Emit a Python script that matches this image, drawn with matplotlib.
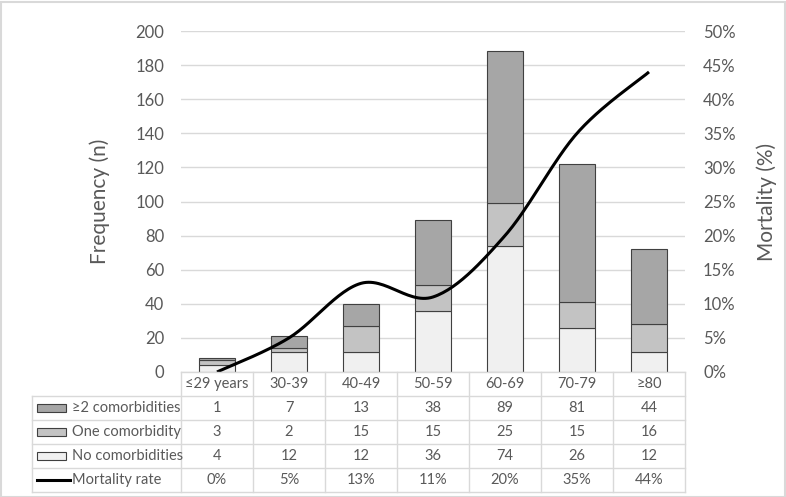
import numpy as np
import matplotlib
matplotlib.use("Agg")
from matplotlib import pyplot as plt
from matplotlib.patches import Rectangle
from matplotlib.lines import Line2D
from matplotlib.ticker import FuncFormatter

plt.rcParams["font.family"] = ["Lato", "DejaVu Sans"]

ages = ["≤29 years", "30-39", "40-49", "50-59", "60-69", "70-79", "≥80"]
no_comorb = [4, 12, 12, 36, 74, 26, 12]
one_comorb = [3, 2, 15, 15, 25, 15, 16]
two_comorb = [1, 7, 13, 38, 89, 81, 44]
mortality = [0, 5, 13, 11, 20, 35, 44]

series_names = ["≥2 comorbidities", "One comorbidity", "No comorbidities", "Mortality rate"]
colors = {"two": "#a6a6a6", "one": "#c3c3c3", "none": "#f0f0f0"}
TXT = "#595959"
GRID = "#d9d9d9"

W, H = 786, 497
fig = plt.figure(figsize=(W / 100, H / 100), dpi=100)
fig.patches.append(Rectangle((0.5 / W, 0.5 / H), 1 - 2 / W, 1 - 2 / H, transform=fig.transFigure,
                             fill=False, edgecolor=GRID, lw=1.5))

ax_l, ax_r, ax_b, ax_t = 181, 685, 372, 31
ax = fig.add_axes([ax_l / W, 1 - ax_b / H, (ax_r - ax_l) / W, (ax_b - ax_t) / H])
x = np.arange(len(ages))

def stack(vals, bottom, col):
    ax.bar(x, vals, 0.51, bottom=bottom, color=col, edgecolor="#404040", lw=0.8, zorder=3)

b0 = np.zeros(len(ages))
stack(no_comorb, b0, colors["none"])
b1 = b0 + np.array(no_comorb)
stack(one_comorb, b1, colors["one"])
b2 = b1 + np.array(one_comorb)
stack(two_comorb, b2, colors["two"])

ax.set_xlim(-0.5, len(ages) - 0.5)
ax.set_ylim(0, 200)
ax.set_yticks(range(0, 201, 20))
ax.set_xticks([])
ax.grid(axis="y", color=GRID, lw=1, zorder=0)
for s in ax.spines.values():
    s.set_visible(False)
ax.tick_params(axis="y", length=0, labelsize=12, labelcolor=TXT, pad=12)
ax.set_ylabel("Frequency (n)", fontsize=15, color=TXT, labelpad=18)

ax2 = ax.twinx()
ax2.set_ylim(0, 50)
ax2.set_yticks(range(0, 51, 5))
ax2.yaxis.set_major_formatter(FuncFormatter(lambda v, p: f"{int(v)}%"))
for s in ax2.spines.values():
    s.set_visible(False)
ax2.tick_params(axis="y", length=0, labelsize=12, labelcolor=TXT, pad=13)
ax2.set_ylabel("Mortality (%)", fontsize=15, color=TXT, labelpad=15)

# smoothed line (Catmull-Rom style, like Excel's smoothing), computed in pixel space
px = x * (ax_r - ax_l) / len(ages)
py = np.array(mortality) * (ax_b - ax_t) / 50.0
P = np.column_stack([px, py])
Pe = np.vstack([P[0], P, P[-1]])
curve = []
t = np.linspace(0, 1, 30)[:, None]
for i in range(len(P) - 1):
    p0, p3 = Pe[i + 1], Pe[i + 2]
    c1 = p0 + (Pe[i + 2] - Pe[i]) / 6
    c2 = p3 - (Pe[i + 3] - Pe[i + 1]) / 6
    seg = (1 - t) ** 3 * p0 + 3 * (1 - t) ** 2 * t * c1 + 3 * (1 - t) * t ** 2 * c2 + t ** 3 * p3
    curve.append(seg)
curve = np.vstack(curve)
ax2.plot(curve[:, 0] * len(ages) / (ax_r - ax_l), curve[:, 1] * 50.0 / (ax_b - ax_t),
         color="black", lw=2.2, zorder=5, solid_capstyle="butt")

# data table below the plot
rows = [two_comorb, one_comorb, no_comorb, [f"{m}%" for m in mortality]]
row_h = 24 / H
col_w = (ax_r - ax_l) / W / len(ages)
left0 = ax_l / W
tab_left = 32 / W
y_top = 1 - ax_b / H

def hline(y, x0, x1):
    fig.add_artist(Line2D([x0, x1], [y, y], color=GRID, lw=1, transform=fig.transFigure))

def vline(xp, y0, y1):
    fig.add_artist(Line2D([xp, xp], [y0, y1], color=GRID, lw=1, transform=fig.transFigure))

hline(y_top, left0, ax_r / W)
for r in range(1, 6):
    hline(y_top - r * row_h, tab_left, ax_r / W)
vline(tab_left, y_top - 5 * row_h, y_top - row_h)
for c in range(len(ages) + 1):
    vline(left0 + c * col_w, y_top - 5 * row_h, y_top)

for c, lab in enumerate(ages):
    fig.text(left0 + (c + 0.5) * col_w, y_top - 0.5 * row_h, lab, ha="center", va="center",
             fontsize=10.5, color=TXT)
for r, vals in enumerate(rows):
    yc = y_top - (r + 1.5) * row_h
    for c, v in enumerate(vals):
        fig.text(left0 + (c + 0.5) * col_w, yc, str(v), ha="center", va="center",
                 fontsize=10.5, color=TXT)
    fig.text(72 / W, yc, series_names[r], ha="left", va="center", fontsize=10.5, color=TXT)
    if r < 3:
        col = [colors["two"], colors["one"], colors["none"]][r]
        fig.patches.append(Rectangle((37 / W, yc - 4 / H), 29 / W, 8 / H, transform=fig.transFigure,
                                     facecolor=col, edgecolor="#404040", lw=0.8))
    else:
        fig.add_artist(Line2D([37 / W, 70 / W], [yc, yc], color="black", lw=2.2,
                              transform=fig.transFigure))

fig.savefig("out.png", dpi=100)
